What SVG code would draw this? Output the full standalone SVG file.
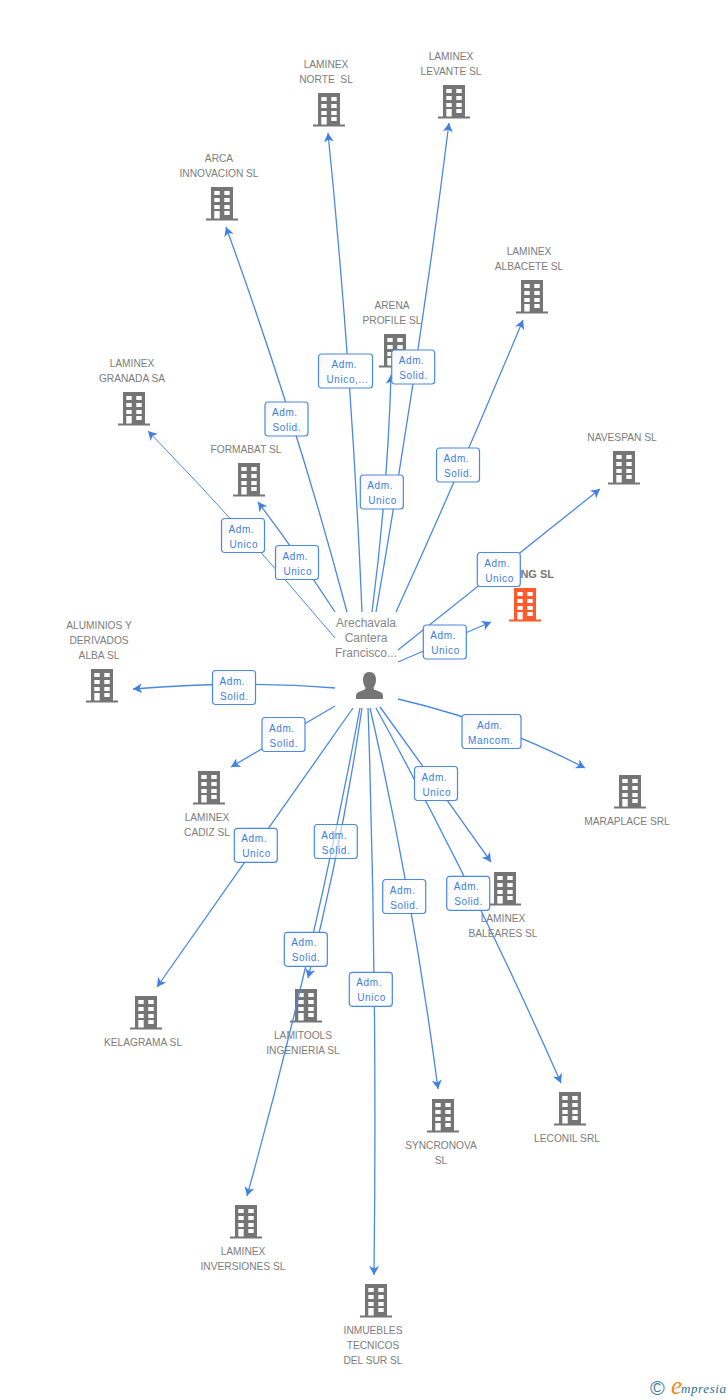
<svg xmlns="http://www.w3.org/2000/svg" xmlns:xlink="http://www.w3.org/1999/xlink" width="728" height="1400" viewBox="0 0 728 1400">
<style>
text{font-family:"Liberation Sans",Arial,sans-serif}
.l{font-size:10.2px;fill:#7c7c7c;text-anchor:middle}
.p{font-size:12px;fill:#888;text-anchor:middle}
.c{fill:none;stroke:#4a88e2;stroke-width:1.3;marker-end:url(#a)}
.b{fill:url(#g);stroke:#4a88e2;stroke-width:1.2}
.t{font-size:10px;fill:#3b7ddd;letter-spacing:.6px}
</style>
<defs>
<marker id="a" markerUnits="userSpaceOnUse" markerWidth="12" markerHeight="12" refX="9" refY="6" orient="auto"><path d="M9,6 L0,1 L2.5,6 L0,11 Z" fill="#3f80e0"/></marker>
<linearGradient id="g" x1="0" y1="0" x2="1" y2="1"><stop offset="0" stop-color="#f6f6f6"/><stop offset=".5" stop-color="#fff"/></linearGradient>
<path id="h" fill-rule="evenodd" d="M-11,0H11V31.500H16V33.500H-16V31.500H-11ZM-7.700,4V8H-2.300V4ZM2.300,4V8H7.700V4ZM-7.700,11V15H-2.300V11ZM2.300,11V15H7.700V11ZM-7.700,18V22H-2.300V18ZM2.300,18V22H7.700V18ZM-7.700,24V31.500H-2.300V24ZM2.300,24V28H7.700V24Z"/>
</defs>
<g id="n-norte" fill="#757575"><use href="#h" x="329" y="93"/><text class="l" x="326" y="68">LAMINEX</text><text class="l" x="326" y="83" xml:space="preserve">NORTE  SL</text></g>
<g id="n-levante" fill="#757575"><use href="#h" x="454" y="85"/><text class="l" x="451" y="60">LAMINEX</text><text class="l" x="451" y="75">LEVANTE SL</text></g>
<g id="n-arca" fill="#757575"><use href="#h" x="222" y="187"/><text class="l" x="219" y="162">ARCA</text><text class="l" x="219" y="177">INNOVACION SL</text></g>
<g id="n-albacete" fill="#757575"><use href="#h" x="532" y="280"/><text class="l" x="529" y="255">LAMINEX</text><text class="l" x="529" y="270">ALBACETE SL</text></g>
<g id="n-arena" fill="#757575"><use href="#h" x="395" y="334"/><text class="l" x="392" y="309">ARENA</text><text class="l" x="392" y="324">PROFILE SL</text></g>
<g id="n-granada" fill="#757575"><use href="#h" x="134" y="392"/><text class="l" x="132" y="367">LAMINEX</text><text class="l" x="132" y="382">GRANADA SA</text></g>
<g id="n-formabat" fill="#757575"><use href="#h" x="249" y="463"/><text class="l" x="246" y="453">FORMABAT SL</text></g>
<g id="n-navespan" fill="#757575"><use href="#h" x="624" y="451"/><text class="l" x="622" y="441">NAVESPAN SL</text></g>
<g id="n-ing" fill="#ff5a2b"><use href="#h" x="525" y="588"/><text x="554" y="578" text-anchor="end" font-size="11" font-weight="bold" fill="#777">NG SL</text></g>
<g id="n-aluminios" fill="#757575"><use href="#h" x="102" y="669"/><text class="l" x="99" y="629">ALUMINIOS Y</text><text class="l" x="99" y="644">DERIVADOS</text><text class="l" x="99" y="659">ALBA SL</text></g>
<g id="n-cadiz" fill="#757575"><use href="#h" x="209" y="771"/><text class="l" x="207" y="821">LAMINEX</text><text class="l" x="207" y="836">CADIZ SL</text></g>
<g id="n-maraplace" fill="#757575"><use href="#h" x="630" y="775"/><text class="l" x="627" y="825">MARAPLACE SRL</text></g>
<g id="n-baleares" fill="#757575"><use href="#h" x="505" y="872"/><text class="l" x="503" y="922">LAMINEX</text><text class="l" x="503" y="937">BALEARES SL</text></g>
<g id="n-kelagrama" fill="#757575"><use href="#h" x="146" y="996"/><text class="l" x="143" y="1046">KELAGRAMA SL</text></g>
<g id="n-lamitools" fill="#757575"><use href="#h" x="306" y="989"/><text class="l" x="303" y="1039">LAMITOOLS</text><text class="l" x="303" y="1054">INGENIERIA SL</text></g>
<g id="n-syncronova" fill="#757575"><use href="#h" x="443" y="1099"/><text class="l" x="441" y="1149">SYNCRONOVA</text><text class="l" x="441" y="1164">SL</text></g>
<g id="n-leconil" fill="#757575"><use href="#h" x="570" y="1092"/><text class="l" x="567" y="1142">LECONIL SRL</text></g>
<g id="n-inversiones" fill="#757575"><use href="#h" x="246" y="1205"/><text class="l" x="243" y="1255">LAMINEX</text><text class="l" x="243" y="1270">INVERSIONES SL</text></g>
<g id="n-inmuebles" fill="#757575"><use href="#h" x="376" y="1284"/><text class="l" x="373" y="1334">INMUEBLES</text><text class="l" x="373" y="1349">TECNICOS</text><text class="l" x="373" y="1364">DEL SUR SL</text></g>
<g id="n-person"><text class="p" x="366" y="627">Arechavala</text><text class="p" x="366" y="642">Cantera</text><text class="p" x="366" y="657">Francisco...</text>
<path fill="#757575" d="M369.500,672C374,672 376,675.500 376,679.500C376,683 375,685.500 373.500,687.500C373.500,689.500 375,690 378,691C381.500,692.200 383,693.500 383,696V699H356V696C356,693.500 357.500,692.200 361,691C364,690 365.500,689.500 365.500,687.500C364,685.500 363,683 363,679.500C363,675.500 365,672 369.500,672Z"/></g>
<g id="connectors">
<path class="c" d="M362,612Q352,372 328,133"/>
<path class="c" d="M376,612Q418.500,367 449,123"/>
<path class="c" d="M372,612Q387.500,493 391,375"/>
<path class="c" d="M347,612Q296,420 226,227"/>
<path class="c" d="M335,612Q298,555 258,502"/>
<path class="c" d="M335,638Q246,532 148,431" style="stroke-width:1"/>
<path class="c" d="M396,612Q462,467 523,320"/>
<path class="c" d="M398,650L600,489"/>
<path class="c" d="M398,662L491,622"/>
<path class="c" d="M335,688Q240,680 133,689"/>
<path class="c" d="M335,706L231,767"/>
<path class="c" d="M398,699Q497,722 585,768"/>
<path class="c" d="M353,708L157,987"/>
<path class="c" d="M380,707Q433,780 491,862"/>
<path class="c" d="M376,708Q476,890 561,1083"/>
<path class="c" d="M370,708Q413,896 438,1089"/>
<path class="c" d="M368,708Q377.500,990 374,1275"/>
<path class="c" d="M362,708Q342,845 308,978"/>
<path class="c" d="M360,708Q314,955 247,1196"/>
<g transform="translate(265,402)"><rect class="b" width="43" height="34" rx="3"/><text class="t" x="7" y="14">Adm.</text><text class="t" x="7.500" y="29">Solid.</text></g>
<g transform="translate(318.500,354)"><rect class="b" width="54" height="34" rx="3"/><text class="t" x="13" y="14">Adm.</text><text class="t" x="8" y="29">Unico,...</text></g>
<g transform="translate(391.700,350)"><rect class="b" width="43" height="34" rx="3"/><text class="t" x="7" y="14">Adm.</text><text class="t" x="7.500" y="29">Solid.</text></g>
<g transform="translate(360.300,475)"><rect class="b" width="43" height="34" rx="3"/><text class="t" x="7" y="14">Adm.</text><text class="t" x="8" y="29">Unico</text></g>
<g transform="translate(436.500,448)"><rect class="b" width="43" height="34" rx="3"/><text class="t" x="7" y="14">Adm.</text><text class="t" x="7.500" y="29">Solid.</text></g>
<g transform="translate(275.500,545.500)"><rect class="b" width="43" height="34" rx="3"/><text class="t" x="7" y="14">Adm.</text><text class="t" x="8" y="29">Unico</text></g>
<g transform="translate(221.500,518.500)"><rect class="b" width="43" height="34" rx="3"/><text class="t" x="7" y="14">Adm.</text><text class="t" x="8" y="29">Unico</text></g>
<g transform="translate(477.300,552.500)"><rect class="b" width="43" height="34" rx="3"/><text class="t" x="7" y="14">Adm.</text><text class="t" x="8" y="29">Unico</text></g>
<g transform="translate(423.300,625)"><rect class="b" width="43" height="34" rx="3"/><text class="t" x="7" y="14">Adm.</text><text class="t" x="8" y="29">Unico</text></g>
<g transform="translate(212.500,670.500)"><rect class="b" width="43" height="34" rx="3"/><text class="t" x="7" y="14">Adm.</text><text class="t" x="7.500" y="29">Solid.</text></g>
<g transform="translate(262,717.500)"><rect class="b" width="43" height="34" rx="3"/><text class="t" x="7" y="14">Adm.</text><text class="t" x="7.500" y="29">Solid.</text></g>
<g transform="translate(462,714.500)"><rect class="b" width="59" height="34" rx="3"/><text class="t" x="15" y="14">Adm.</text><text class="t" x="6" y="29">Mancom.</text></g>
<g transform="translate(414.500,766.500)"><rect class="b" width="43" height="34" rx="3"/><text class="t" x="7" y="14">Adm.</text><text class="t" x="8" y="29">Unico</text></g>
<g transform="translate(234.300,828.300)"><rect class="b" width="43" height="34" rx="3"/><text class="t" x="7" y="14">Adm.</text><text class="t" x="8" y="29">Unico</text></g>
<g transform="translate(314.300,824.500)"><rect class="b" width="43" height="34" rx="3" fill-opacity=".6"/><text class="t" x="7" y="14">Adm.</text><text class="t" x="7.500" y="29">Solid.</text></g>
<g transform="translate(382.700,879.500)"><rect class="b" width="43" height="34" rx="3"/><text class="t" x="7" y="14">Adm.</text><text class="t" x="7.500" y="29">Solid.</text></g>
<g transform="translate(446.700,876.300)"><rect class="b" width="43" height="34" rx="3"/><text class="t" x="7" y="14">Adm.</text><text class="t" x="7.500" y="29">Solid.</text></g>
<g transform="translate(349.300,972.300)"><rect class="b" width="43" height="34" rx="3"/><text class="t" x="7" y="14">Adm.</text><text class="t" x="8" y="29">Unico</text></g>
<g transform="translate(284.300,932.300)"><rect class="b" width="43" height="34" rx="3"/><text class="t" x="7" y="14">Adm.</text><text class="t" x="7.500" y="29">Solid.</text></g>
</g>
<g id="logo"><text x="650" y="1395" font-size="20" fill="#3f7f9a">©</text><text x="671" y="1394" font-size="25" font-style="italic" fill="#f08a1d" style="font-family:'Liberation Serif',serif">e</text><text x="681" y="1393" font-size="13" font-style="italic" letter-spacing=".6" fill="#2f6f8c" style="font-family:'Liberation Serif',serif">mpresia</text></g>
</svg>
